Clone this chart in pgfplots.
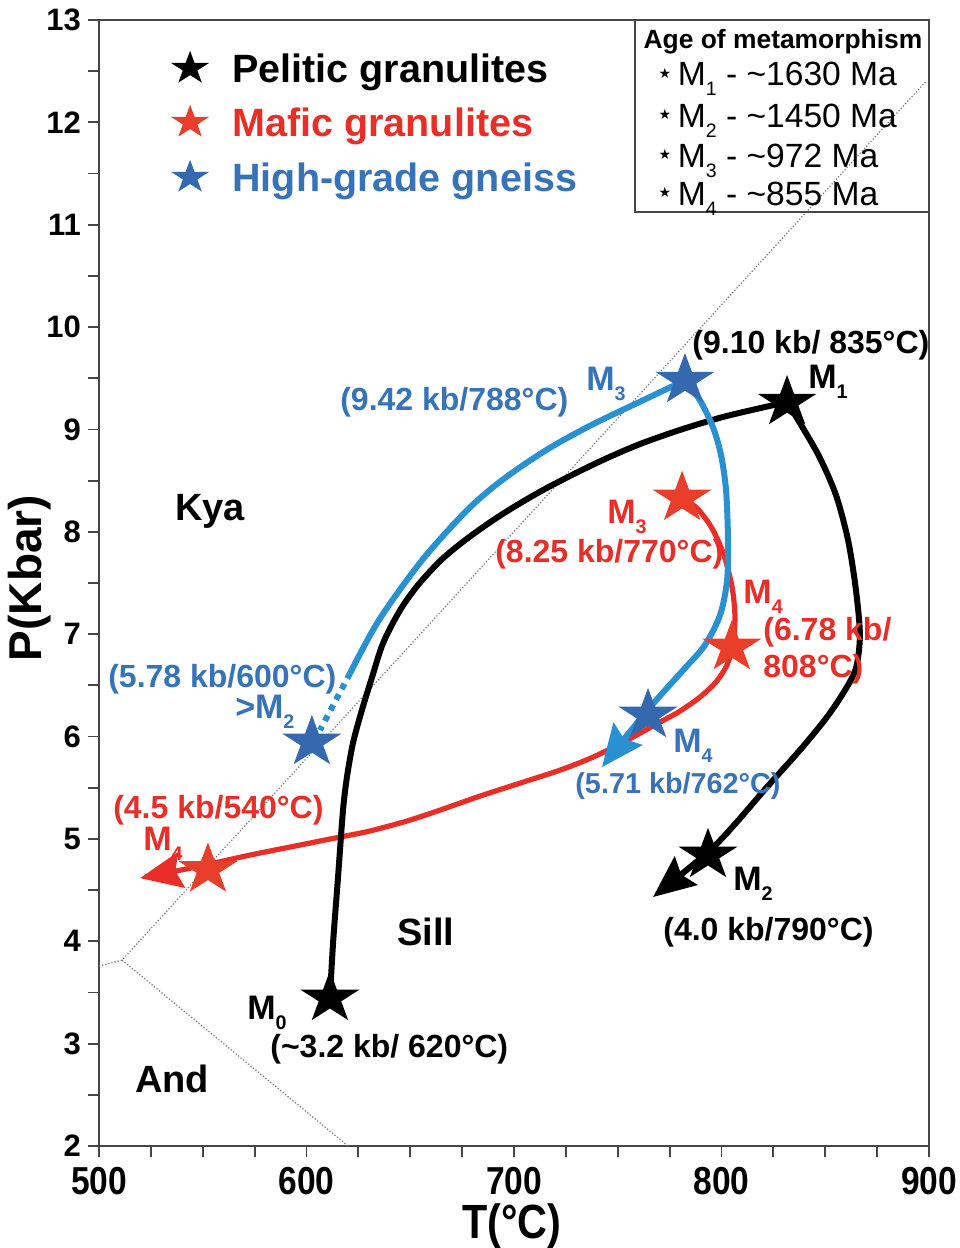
\documentclass[border=0pt]{standalone}
\usepackage{pgfplots}
\pgfplotsset{compat=1.18}
\usetikzlibrary{arrows.meta}
\usepackage{graphicx}
\usepackage{fontspec}
\setmainfont{Liberation Sans}
\newfontfamily\narrowfont[FakeStretch=0.86]{Liberation Sans}
\newfontfamily\dejavu{DejaVu Sans}

\definecolor{myred}{RGB}{232,46,38}
\definecolor{starred}{RGB}{232,62,42}
\definecolor{lineblue}{RGB}{40,145,210}
\definecolor{textblue}{RGB}{55,115,185}
\definecolor{starblue}{RGB}{52,105,175}
\definecolor{axisgray}{RGB}{70,70,70}

\pgfdeclareplotmark{fstar}{%
  \pgfpathmoveto{\pgfpointpolar{90}{\pgfplotmarksize}}%
  \pgfpathlineto{\pgfpointpolar{126}{0.382\pgfplotmarksize}}%
  \pgfpathlineto{\pgfpointpolar{162}{\pgfplotmarksize}}%
  \pgfpathlineto{\pgfpointpolar{198}{0.382\pgfplotmarksize}}%
  \pgfpathlineto{\pgfpointpolar{234}{\pgfplotmarksize}}%
  \pgfpathlineto{\pgfpointpolar{270}{0.382\pgfplotmarksize}}%
  \pgfpathlineto{\pgfpointpolar{306}{\pgfplotmarksize}}%
  \pgfpathlineto{\pgfpointpolar{342}{0.382\pgfplotmarksize}}%
  \pgfpathlineto{\pgfpointpolar{18}{\pgfplotmarksize}}%
  \pgfpathlineto{\pgfpointpolar{54}{0.382\pgfplotmarksize}}%
  \pgfpathclose
  \pgfusepathqfill
}

\newcommand\sub[1]{\raisebox{-0.3em}{\scalebox{0.58}{#1}}}
\newcommand\bstar{\raisebox{0.22em}{\dejavu\fontsize{7}{7}\selectfont ★}\hspace{0.2em}}

\tikzset{
  ann/.style={anchor=base west, inner sep=0pt, font=\bfseries\fontsize{16}{16}\selectfont},
  mlab/.style={anchor=base west, inner sep=0pt, font=\bfseries\fontsize{17}{17}\selectfont},
  region/.style={anchor=base west, inner sep=0pt, font=\bfseries\fontsize{19}{19}\selectfont},
  leg/.style={anchor=base west, inner sep=0pt, font=\bfseries\fontsize{19.75}{19.75}\selectfont},
  agebox/.style={anchor=base west, inner sep=0pt, font=\fontsize{16.8}{16.8}\selectfont},
  arr/.style={-{Stealth[length=21pt,width=18pt,inset=3pt]}},
}

\begin{document}
\begin{tikzpicture}
\useasboundingbox (-49.5pt,-51pt) rectangle (430pt,573pt);
\begin{axis}[
  scale only axis, width=415pt, height=563pt,
  xmin=500, xmax=900, ymin=2, ymax=13,
  clip=false,
  axis line style={draw=axisgray, line width=0.9pt},
  tick pos=left, tick align=outside,
  xtick={500,600,700,800,900},
  xticklabels={500,600,700,800,900},
  minor x tick num=3,
  ytick={2,3,4,5,6,7,8,9,10,11,12,13},
  yticklabels={2,3,4,5,6,7,8,9,10,11,12,13},
  minor y tick num=1,
  major tick length=5.5pt, minor tick length=5.5pt,
  tick style={draw=axisgray, line width=0.9pt},
  xticklabel style={font=\narrowfont\bfseries\fontsize{19.5}{19.5}\selectfont, yshift=-1.5pt},
  yticklabel style={font=\bfseries\fontsize{15.5}{15.5}\selectfont},
  xlabel={T(°C)}, ylabel={P(Kbar)},
  xlabel style={font=\narrowfont\bfseries\fontsize{24}{24}\selectfont, at={(axis description cs:0.4976,-0.0715)}, anchor=center},
  ylabel style={font=\bfseries\fontsize{23}{23}\selectfont, at={(axis description cs:-0.0831,0.5044)}, anchor=center},
]

% Al2SiO5 reaction boundaries
\addplot[black!55, line width=0.6pt, densely dotted] coordinates {(500,3.758) (511.1,3.816) (898.5,12.40)};
\addplot[black!55, line width=0.6pt, densely dotted] coordinates {(511.1,3.816) (620,2.0)};

% Mafic granulites path (red)
\addplot[myred, line width=2.6pt, smooth, arr] coordinates {
(781.0,8.330) (788.2,8.230) (795.4,8.035) (801.2,7.771) (805.1,7.459) (806.5,7.166)
(805.5,6.893) (802.6,6.697) (797.3,6.531) (789.6,6.385) (780.0,6.248) (770.4,6.141)
(754.5,5.965) (738.1,5.799) (722.2,5.672) (702.9,5.545) (683.6,5.418) (664.3,5.281)
(649.9,5.184) (637.8,5.115) (628.2,5.066) (616.1,5.018) (596.9,4.940) (572.8,4.842)
(548.7,4.734) (519.8,4.617)};

% Pelitic granulites path (black)
\addplot[black, line width=3pt, smooth] coordinates {
(611.3,3.445) (612.8,3.982) (615.2,4.627) (617.6,5.281) (619.5,5.604) (622.4,5.936)
(626.7,6.258) (631.6,6.580) (636.9,6.912) (645.1,7.234) (653.7,7.479) (664.8,7.723)
(676.4,7.918) (689.9,8.113) (702.9,8.279) (718.3,8.455) (739.5,8.670) (759.3,8.846)
(779.5,8.992) (800.2,9.119) (820.5,9.217) (831.6,9.266)};
\addplot[black, line width=3pt, smooth, arr] coordinates {
(831.6,9.266) (839.3,9.012) (847.5,8.719) (855.2,8.357) (861.0,7.918) (864.8,7.430)
(866.7,6.990) (864.8,6.668) (859.5,6.453) (850.8,6.189) (837.8,5.867) (821.9,5.506)
(806.5,5.145) (793.5,4.871) (767.0,4.432)};

% High-grade gneiss path (blue)
\addplot[lineblue, line width=3pt, dash pattern=on 3pt off 3pt] coordinates {
(621.0,6.619) (606.5,6.062)};
\addplot[lineblue, line width=3pt, smooth] coordinates {
(621.0,6.619) (634.9,7.137) (655.7,7.723) (677.4,8.211) (694.2,8.504) (715.4,8.797)
(737.1,9.041) (762.2,9.285) (782.4,9.480)};
\addplot[lineblue, line width=3pt, smooth, arr] coordinates {
(782.4,9.480) (789.6,9.285) (795.9,9.021) (799.8,8.748) (802.2,8.406) (803.1,7.947)
(802.7,7.527) (799.3,7.186) (792.0,6.893) (782.4,6.668) (772.8,6.453) (763.6,6.238)
(753.0,5.975) (742.4,5.701)};

% stars (P-T estimates)
\addplot[only marks, mark=fstar, mark size=15.5pt, mark options={yscale=0.88}, black]
  coordinates {(611.3,3.445) (831.6,9.266) (793.5,4.842)};
\addplot[only marks, mark=fstar, mark size=15.5pt, mark options={yscale=0.88}, starred]
  coordinates {(781.0,8.330) (805.0,6.873) (552.5,4.700)};
\addplot[only marks, mark=fstar, mark size=15.5pt, mark options={yscale=0.88}, starblue]
  coordinates {(782.4,9.480) (602.6,5.945) (764.6,6.209)};

% legend (top left)
\addplot[only marks, mark=fstar, mark size=10pt, mark options={yscale=0.88}, black] coordinates {(543.9,12.527)};
\addplot[only marks, mark=fstar, mark size=10pt, mark options={yscale=0.88}, starred] coordinates {(543.9,12.000)};
\addplot[only marks, mark=fstar, mark size=10pt, mark options={yscale=0.88}, starblue] coordinates {(543.9,11.463)};
\node[leg, text=black] at (564.1,12.391) {Pelitic granulites};
\node[leg, text=myred] at (564.1,11.863) {Mafic granulites};
\node[leg, text=textblue] at (564.1,11.326) {High-grade gneiss};

% age box
\draw[axisgray, line width=0.9pt] (758.3,13) -- (758.3,11.121) -- (900,11.121);
\node[anchor=base west, inner sep=0pt, font=\bfseries\fontsize{13.2}{13.2}\selectfont] at (762.3,12.723) {Age of metamorphism};
\node[agebox] at (769.5,12.361) {\bstar M\sub{1} - \textasciitilde1630 Ma};
\node[agebox] at (769.5,11.951) {\bstar M\sub{2} - \textasciitilde1450 Ma};
\node[agebox] at (769.5,11.561) {\bstar M\sub{3} - \textasciitilde972 Ma};
\node[agebox] at (769.5,11.190) {\bstar M\sub{4} - \textasciitilde855 Ma};

% field labels
\node[region] at (536.6,8.113) {Kya};
\node[region] at (643.6,3.963) {Sill};
\node[region] at (517.3,2.527) {And};

% pelitic annotations
\node[ann] at (785.8,9.744) {(9.10 kb/ 835°C)};
\node[mlab] at (841.7,9.402) {M\sub{1}};
\node[mlab] at (805.5,4.500) {M\sub{2}};
\node[ann] at (771.8,4.012) {(4.0 kb/790°C)};
\node[mlab] at (571.3,3.240) {M\sub{0}};
\node[ann] at (582.4,2.869) {(\textasciitilde3.2 kb/ 620°C)};

% mafic annotations
\node[mlab, text=myred] at (744.8,8.084) {M\sub{3}};
\node[ann, text=myred] at (690.8,7.703) {(8.25 kb/770°C)};
\node[mlab, text=myred] at (810.4,7.300) {M\sub{4}};
\node[ann, text=myred] at (820.0,6.941) {(6.78 kb/};
\node[ann, text=myred] at (820.0,6.580) {808°C)};
\node[ann, text=myred] at (506.7,5.203) {(4.5 kb/540°C)};
\node[mlab, text=myred] at (521.2,4.891) {M\sub{4}};

% gneiss annotations
\node[ann, text=textblue] at (616.1,9.187) {(9.42 kb/788°C)};
\node[mlab, text=textblue] at (734.7,9.383) {M\sub{3}};
\node[ann, text=textblue] at (504.3,6.482) {(5.78 kb/600°C)};
\node[mlab, text=textblue] at (565.5,6.180) {>M\sub{2}};
\node[mlab, text=textblue] at (776.6,5.848) {M\sub{4}};
\node[ann, text=textblue, font=\bfseries\fontsize{14.4}{14.4}\selectfont] at (729.4,5.447) {(5.71 kb/762°C)};

\end{axis}
\end{tikzpicture}
\end{document}
